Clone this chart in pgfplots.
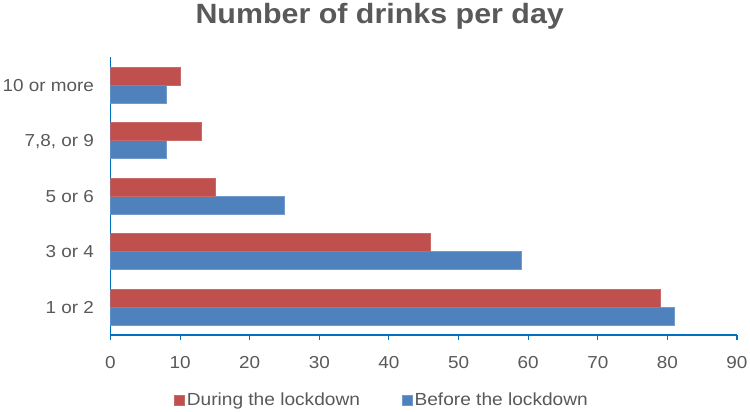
\documentclass[border=0pt]{standalone}
\usepackage{fontspec}
\setmainfont{Liberation Sans}[FakeStretch=1.09]
\usepackage{pgfplots}
\pgfplotsset{compat=1.18}
\definecolor{barred}{HTML}{C0504D}
\definecolor{barblue}{HTML}{4F81BD}
\definecolor{axblue}{HTML}{0070C0}
\definecolor{txtgray}{HTML}{595959}
\begin{document}
\begin{tikzpicture}
\begin{axis}[
  at={(0,0)}, anchor=south west,
  scale only axis, width=626.5bp, height=277.7bp,
  xbar, bar width=18bp,
  xmin=0, xmax=90, ymin=-0.5, ymax=4.5,
  xtick={0,10,...,90},
  ytick={0,1,2,3,4},
  yticklabels={1 or 2, 3 or 4, 5 or 6, {7,8, or 9}, 10 or more},
  axis x line*=bottom, axis y line*=left,
  axis line style={axblue, line width=1.1bp},
  xtick align=outside, major tick length=5bp,
  x tick style={axblue, line width=1.1bp},
  y tick style={draw=none},
  /pgf/number format/assume math mode=true,
  tick label style={font=\fontsize{17.4}{20}\selectfont, text=txtgray},
  xticklabel style={anchor=base, yshift=-28.5bp},
  yticklabel style={anchor=base east, xshift=-8bp, yshift=-6.2bp},
  legend style={draw=none, at={(axis description cs:0.4334,-0.234)}, anchor=center,
    font=\fontsize{17.6}{20}\selectfont, text=txtgray,
    /tikz/every even column/.append style={column sep=40bp}},
  legend columns=2,
  legend cell align=left,
  legend image code/.code={\fill[#1] (0bp,-5bp) rectangle (10bp,5bp);},
  reverse legend,
]
\addplot[fill=barblue, draw=barblue!80!white, line width=0.6bp, bar shift=-9bp] coordinates {(81,0) (59,1) (25,2) (8,3) (8,4)};
\addlegendentry{Before the lockdown}
\addplot[fill=barred, draw=barred!85!white, line width=0.6bp, bar shift=9bp] coordinates {(79,0) (46,1) (15,2) (13,3) (10,4)};
\addlegendentry{During the lockdown}
\end{axis}
\node[anchor=base, font=\fontsize{28}{32}\selectfont\bfseries, text=txtgray] at (269.2bp,311bp) {Number of drinks per day};
\pgfresetboundingbox
\path[use as bounding box] (-110.5bp,-77bp) rectangle (639.5bp,335bp);
\end{tikzpicture}
\end{document}
